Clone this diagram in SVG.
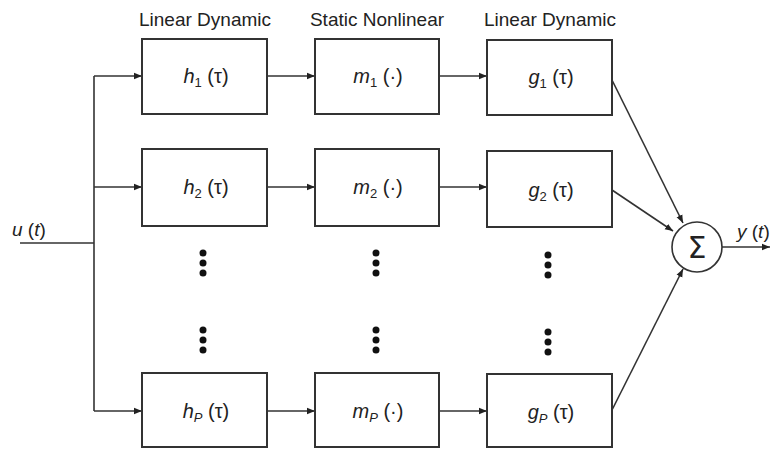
<svg xmlns="http://www.w3.org/2000/svg" width="770" height="450" viewBox="0 0 770 450">
<defs>
<marker id="ah" viewBox="0 0 10 10" refX="10" refY="5" markerWidth="8" markerHeight="8" markerUnits="userSpaceOnUse" orient="auto">
<path d="M0,1 L10,5 L0,9 z" fill="#222"/>
</marker>
<style>
.box{fill:#fff;stroke:#333;stroke-width:2}
.ln{fill:none;stroke:#333;stroke-width:1.6}
.lb{font-family:"Liberation Sans",Arial,sans-serif;font-size:19px;fill:#222}
.tx{font-family:"Liberation Sans",Arial,sans-serif;font-size:20px;fill:#222;text-anchor:middle}
.it{font-style:italic}
.sb{font-size:13px}
.dot{fill:#111}
.sig{font-family:"DejaVu Sans","Liberation Sans",sans-serif;font-size:30px;fill:#222;text-anchor:middle}
</style>
</defs>
<rect width="770" height="450" fill="#fff"/>
<text class="lb" x="205" y="26" text-anchor="middle">Linear Dynamic</text>
<text class="lb" x="377" y="26" text-anchor="middle">Static Nonlinear</text>
<text class="lb" x="550" y="26" text-anchor="middle">Linear Dynamic</text>

<g id="connectors">
<path class="ln" d="M20,243 H94"/>
<path class="ln" d="M94,76 V411"/>
<path class="ln" d="M94,76 H142" marker-end="url(#ah)"/>
<path class="ln" d="M94,187 H142" marker-end="url(#ah)"/>
<path class="ln" d="M94,411 H142" marker-end="url(#ah)"/>
<path class="ln" d="M267,76 H315" marker-end="url(#ah)"/>
<path class="ln" d="M267,187 H315" marker-end="url(#ah)"/>
<path class="ln" d="M267,411 H315" marker-end="url(#ah)"/>
<path class="ln" d="M439,76 H487" marker-end="url(#ah)"/>
<path class="ln" d="M439,187 H487" marker-end="url(#ah)"/>
<path class="ln" d="M439,411 H487" marker-end="url(#ah)"/>
<path class="ln" d="M612,80 L683,223" marker-end="url(#ah)"/>
<path class="ln" d="M612,190 L673,231" marker-end="url(#ah)"/>
<path class="ln" d="M612,410 L683,269" marker-end="url(#ah)"/>
<path class="ln" d="M722,247 H770" marker-end="url(#ah)"/>
</g>

<g id="h1"><rect class="box" x="142" y="39" width="125" height="75"/><text class="tx" x="206" y="83"><tspan class="it">h</tspan><tspan class="sb" dy="4">1</tspan><tspan dy="-4"> (τ)</tspan></text></g>
<g id="h2"><rect class="box" x="142" y="149" width="125" height="77"/><text class="tx" x="206" y="194"><tspan class="it">h</tspan><tspan class="sb" dy="4">2</tspan><tspan dy="-4"> (τ)</tspan></text></g>
<g id="hP"><rect class="box" x="142" y="373" width="125" height="74"/><text class="tx" x="206" y="418"><tspan class="it">h</tspan><tspan class="sb it" dy="4">P</tspan><tspan dy="-4"> (τ)</tspan></text></g>

<g id="m1"><rect class="box" x="315" y="39" width="124" height="75"/><text class="tx" x="378" y="83"><tspan class="it">m</tspan><tspan class="sb" dy="4">1</tspan><tspan dy="-4"> (·)</tspan></text></g>
<g id="m2"><rect class="box" x="315" y="149" width="124" height="77"/><text class="tx" x="378" y="194"><tspan class="it">m</tspan><tspan class="sb" dy="4">2</tspan><tspan dy="-4"> (·)</tspan></text></g>
<g id="mP"><rect class="box" x="315" y="373" width="124" height="74"/><text class="tx" x="378" y="418"><tspan class="it">m</tspan><tspan class="sb it" dy="4">P</tspan><tspan dy="-4"> (·)</tspan></text></g>

<g id="g1"><rect class="box" x="487" y="40" width="125" height="75"/><text class="tx" x="551" y="84"><tspan class="it">g</tspan><tspan class="sb" dy="4">1</tspan><tspan dy="-4"> (τ)</tspan></text></g>
<g id="g2"><rect class="box" x="487" y="151" width="125" height="76"/><text class="tx" x="551" y="197"><tspan class="it">g</tspan><tspan class="sb" dy="4">2</tspan><tspan dy="-4"> (τ)</tspan></text></g>
<g id="gP"><rect class="box" x="487" y="374" width="125" height="73"/><text class="tx" x="551" y="419"><tspan class="it">g</tspan><tspan class="sb it" dy="4">P</tspan><tspan dy="-4"> (τ)</tspan></text></g>

<g id="sum"><circle cx="697" cy="247" r="25" fill="#fff" stroke="#333" stroke-width="1.6"/><text class="sig" x="697" y="258">Σ</text></g>

<g id="dots">
<circle class="dot" cx="203" cy="253" r="3.5"/><circle class="dot" cx="203" cy="263" r="3.5"/><circle class="dot" cx="203" cy="273" r="3.5"/>
<circle class="dot" cx="203" cy="330" r="3.5"/><circle class="dot" cx="203" cy="340" r="3.5"/><circle class="dot" cx="203" cy="350" r="3.5"/>
<circle class="dot" cx="376" cy="253" r="3.5"/><circle class="dot" cx="376" cy="263" r="3.5"/><circle class="dot" cx="376" cy="273" r="3.5"/>
<circle class="dot" cx="376" cy="330" r="3.5"/><circle class="dot" cx="376" cy="340" r="3.5"/><circle class="dot" cx="376" cy="350" r="3.5"/>
<circle class="dot" cx="548" cy="255" r="3.5"/><circle class="dot" cx="548" cy="265" r="3.5"/><circle class="dot" cx="548" cy="275" r="3.5"/>
<circle class="dot" cx="548" cy="332" r="3.5"/><circle class="dot" cx="548" cy="342" r="3.5"/><circle class="dot" cx="548" cy="352" r="3.5"/>
</g>

<text class="lb" x="12" y="236"><tspan font-style="italic">u</tspan> (<tspan font-style="italic">t</tspan>)</text>
<text class="lb" x="737" y="238"><tspan font-style="italic">y</tspan> (<tspan font-style="italic">t</tspan>)</text>
</svg>
